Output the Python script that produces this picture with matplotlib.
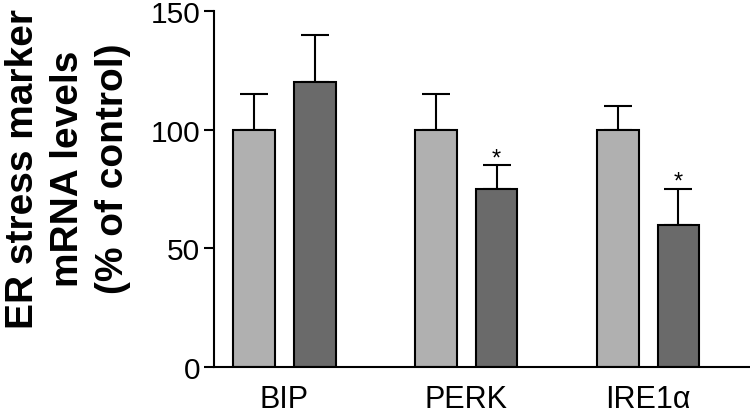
import matplotlib
matplotlib.use("Agg")
import matplotlib.pyplot as plt
import numpy as np

categories = ["BIP", "PERK", "IRE1α"]
control_vals = [100, 100, 100]
control_err = [15, 15, 10]
treated_vals = [120, 75, 60]
treated_err = [20, 10, 15]
treated_sig = ["", "*", "*"]
yticks = [0, 50, 100, 150]

plt.rcParams['font.family'] = ['Liberation Sans', 'DejaVu Sans']

fig = plt.figure(figsize=(7.5, 4.14), dpi=100)
ax = fig.add_axes([214/750, 46/414, 536/750, 356/414])

x = np.arange(len(categories)) * 3.0
w = 0.69
ax.bar(x, control_vals, width=w, color="#b0b0b0", edgecolor="black", linewidth=1.5, zorder=2)
ax.bar(x + 1, treated_vals, width=w, color="#6a6a6a", edgecolor="black", linewidth=1.5, zorder=2)
ax.errorbar(x, control_vals, yerr=[np.zeros(3), control_err], fmt="none", ecolor="black",
            elinewidth=1.5, capsize=10, capthick=1.5, zorder=1)
ax.errorbar(x + 1, treated_vals, yerr=[np.zeros(3), treated_err], fmt="none", ecolor="black",
            elinewidth=1.5, capsize=10, capthick=1.5, zorder=1)
for xi, v, e, s in zip(x + 1, treated_vals, treated_err, treated_sig):
    if s:
        ax.text(xi, v + e + 0.5, s, ha="center", va="baseline", fontsize=17)

ax.set_xlim(-0.66, 8.18)
ax.set_ylim(0, 150)
ax.set_yticks(yticks)
ax.set_yticklabels([str(t) for t in yticks], fontsize=21.5)
ax.set_xticks(x + 0.5)
ax.set_xticklabels(categories, fontsize=22)
ax.tick_params(axis="x", length=0, pad=12)
ax.tick_params(axis="y", length=7, width=1.5, pad=3)
for s in ["top", "right"]:
    ax.spines[s].set_visible(False)
for s in ["left", "bottom"]:
    ax.spines[s].set_linewidth(1.5)
ax.set_ylabel("ER stress marker\nmRNA levels\n(% of control)", fontsize=28,
              fontweight="bold", linespacing=1.32)
ax.yaxis.set_label_coords(-0.155, 0.56)

fig.savefig("out.png", dpi=100)
